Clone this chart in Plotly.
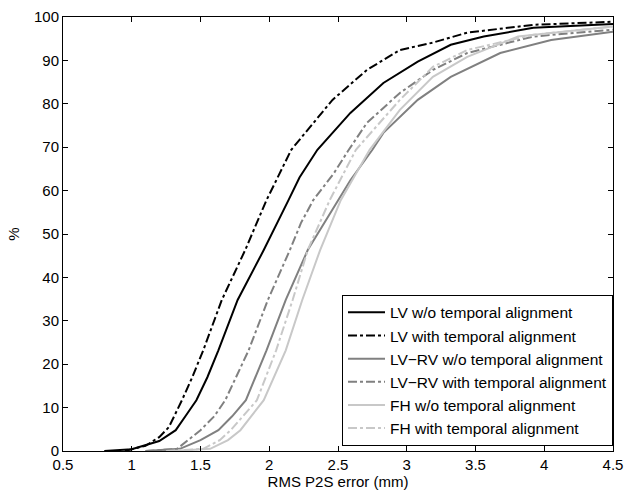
import plotly.graph_objects as go

# ---- data (x = RMS P2S error in mm, y = cumulative %) ----
lv_wo_x = [0.80, 1.00, 1.20, 1.32, 1.39, 1.47, 1.55, 1.63, 1.77, 1.96, 2.14, 2.22, 2.35, 2.59, 2.83, 3.08, 3.32, 3.56, 3.92, 4.50]
lv_wo_y = [0.0, 0.4, 2.3, 4.8, 8.0, 11.7, 17.0, 23.2, 34.8, 46.3, 57.8, 63.0, 69.4, 77.9, 84.8, 89.7, 93.6, 95.5, 97.5, 98.4]

lv_with_x = [0.95, 1.10, 1.20, 1.27, 1.365, 1.44, 1.52, 1.655, 1.825, 1.98, 2.16, 2.37, 2.46, 2.71, 2.95, 3.19, 3.44, 3.92, 4.50]
lv_with_y = [0.0, 1.2, 3.2, 5.5, 11.7, 17.0, 23.2, 34.8, 46.3, 57.8, 69.4, 77.5, 80.9, 87.8, 92.4, 94.1, 96.4, 98.2, 98.9]

lvrv_wo_x = [1.10, 1.35, 1.50, 1.63, 1.73, 1.83, 1.98, 2.12, 2.28, 2.50, 2.59, 2.75, 2.83, 3.08, 3.32, 3.68, 4.05, 4.50]
lvrv_wo_y = [0.0, 0.5, 2.5, 4.8, 8.0, 11.7, 23.2, 34.8, 46.3, 57.8, 62.4, 69.4, 73.3, 80.9, 86.2, 91.7, 94.7, 96.6]

lvrv_with_x = [1.10, 1.33, 1.50, 1.60, 1.68, 1.85, 1.99, 2.15, 2.23, 2.32, 2.47, 2.57, 2.71, 2.95, 3.19, 3.44, 3.92, 4.50]
lvrv_with_y = [0.0, 0.5, 4.8, 8.0, 11.7, 23.2, 34.8, 46.3, 52.5, 57.8, 64.0, 69.0, 75.6, 82.5, 87.8, 91.7, 95.5, 97.1]

fh_wo_x = [1.30, 1.57, 1.70, 1.79, 1.96, 2.12, 2.24, 2.37, 2.52, 2.73, 2.95, 3.19, 3.44, 3.81, 4.50]
fh_wo_y = [0.0, 0.5, 2.5, 4.8, 11.7, 23.2, 34.8, 46.3, 57.8, 69.4, 78.6, 86.2, 90.8, 95.5, 97.8]

fh_with_x = [1.25, 1.52, 1.64, 1.72, 1.91, 2.05, 2.17, 2.28, 2.44, 2.63, 2.95, 3.19, 3.44, 3.92, 4.50]
fh_with_y = [0.0, 0.5, 2.5, 4.8, 11.7, 23.2, 34.8, 46.3, 57.8, 69.4, 80.9, 88.5, 92.4, 95.9, 97.8]

x_ticks = [0.5, 1, 1.5, 2, 2.5, 3, 3.5, 4, 4.5]
x_tick_labels = ["0.5", "1", "1.5", "2", "2.5", "3", "3.5", "4", "4.5"]
y_ticks = [0, 10, 20, 30, 40, 50, 60, 70, 80, 90, 100]

series = [
    ("LV w/o temporal alignment", lv_wo_x, lv_wo_y, "#000000", "solid"),
    ("LV with temporal alignment", lv_with_x, lv_with_y, "#000000", "dashdot"),
    ("LV\u2212RV w/o temporal alignment", lvrv_wo_x, lvrv_wo_y, "#808080", "solid"),
    ("LV\u2212RV with temporal alignment", lvrv_with_x, lvrv_with_y, "#808080", "dashdot"),
    ("FH w/o temporal alignment", fh_wo_x, fh_wo_y, "#c8c8c8", "solid"),
    ("FH with temporal alignment", fh_with_x, fh_with_y, "#c8c8c8", "dashdot"),
]

FONT = "Liberation Sans, Arial, Helvetica, sans-serif"

fig = go.Figure()
for name, xs, ys, col, dash in series:
    fig.add_trace(go.Scatter(x=xs, y=ys, mode="lines", name=name,
                             line=dict(color=col, width=2, dash=dash)))

axis_common = dict(showline=True, linecolor="black", linewidth=1, mirror="ticks",
                   ticks="inside", ticklen=5, tickcolor="black", tickwidth=1,
                   showgrid=False, zeroline=False,
                   tickfont=dict(family=FONT, size=15, color="black"))

fig.update_xaxes(range=[0.5, 4.5], tickvals=x_ticks, ticktext=x_tick_labels,
                 title=dict(text="RMS P2S error (mm)", font=dict(family=FONT, size=15, color="black"), standoff=0),
                 **axis_common)
fig.update_yaxes(range=[0, 100], tickvals=y_ticks,
                 title=dict(text="%", font=dict(family=FONT, size=15, color="black"), standoff=10),
                 **axis_common)

fig.update_layout(
    width=625, height=494,
    margin=dict(l=63, r=12, t=17, b=43, autoexpand=False),
    plot_bgcolor="white", paper_bgcolor="white",
    font=dict(family=FONT, size=15, color="black"),
    legend=dict(x=1.0, y=0.012, xanchor="right", yanchor="bottom",
                bgcolor="white", bordercolor="black", borderwidth=1,
                font=dict(family=FONT, size=15.5, color="black"),
                itemwidth=37, tracegroupgap=0),
    showlegend=True,
)

fig.write_html("out.html", config={"displayModeBar": False},
               post_script="document.body.style.margin='0';document.body.style.overflow='hidden';")
